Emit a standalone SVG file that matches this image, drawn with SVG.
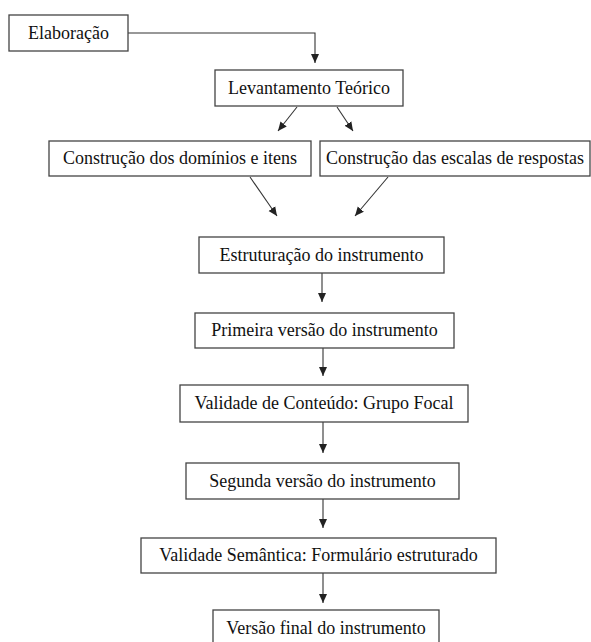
<svg xmlns="http://www.w3.org/2000/svg" width="591" height="642" viewBox="0 0 591 642">
<defs>
<style>
.box{fill:#fff;stroke:#444;stroke-width:1.3}
.t{font-family:"Liberation Serif","Times New Roman",serif;font-size:18px;fill:#111;text-anchor:middle}
.c{fill:none;stroke:#333;stroke-width:1.1}
</style>
<marker id="ah" markerUnits="userSpaceOnUse" markerWidth="9" markerHeight="9" viewBox="0 0 9 9" refX="9" refY="4.5" orient="auto">
<path d="M0,0.5 L9,4.5 L0,8.5 Z" fill="#222"/>
</marker>
</defs>
<rect width="591" height="642" fill="#fff"/>
<g id="connectors">
<path class="c" d="M128,33 H315 V63" marker-end="url(#ah)"/>
<path class="c" d="M297,107 L278,131" marker-end="url(#ah)"/>
<path class="c" d="M337,107 L353,131" marker-end="url(#ah)"/>
<path class="c" d="M250,177 L277,216" marker-end="url(#ah)"/>
<path class="c" d="M388,177 L355,216" marker-end="url(#ah)"/>
<path class="c" d="M322,273 V302" marker-end="url(#ah)"/>
<path class="c" d="M323,348 V376" marker-end="url(#ah)"/>
<path class="c" d="M323,422 V453" marker-end="url(#ah)"/>
<path class="c" d="M323,499 V528" marker-end="url(#ah)"/>
<path class="c" d="M323,573 V603" marker-end="url(#ah)"/>
</g>
<g id="elaboracao"><rect class="box" x="9" y="15" width="119" height="36"/><text class="t" x="68.5" y="39">Elaboração</text></g>
<g id="levantamento"><rect class="box" x="215" y="70" width="188" height="36"/><text class="t" x="309" y="94">Levantamento Teórico</text></g>
<g id="dominios"><rect class="box" x="49" y="141" width="262" height="35"/><text class="t" x="180" y="164">Construção dos domínios e itens</text></g>
<g id="escalas"><rect class="box" x="320" y="141" width="270" height="35"/><text class="t" x="455" y="164">Construção das escalas de respostas</text></g>
<g id="estruturacao"><rect class="box" x="199" y="237" width="245" height="36"/><text class="t" x="321.5" y="261">Estruturação do instrumento</text></g>
<g id="primeira"><rect class="box" x="195" y="313" width="259" height="35"/><text class="t" x="324.5" y="336">Primeira versão do instrumento</text></g>
<g id="conteudo"><rect class="box" x="180" y="385" width="288" height="37"/><text class="t" x="324" y="409">Validade de Conteúdo: Grupo Focal</text></g>
<g id="segunda"><rect class="box" x="186" y="463" width="273" height="36"/><text class="t" x="322.5" y="487">Segunda versão do instrumento</text></g>
<g id="semantica"><rect class="box" x="141" y="538" width="355" height="35"/><text class="t" x="318.5" y="561">Validade Semântica: Formulário estruturado</text></g>
<g id="final"><rect class="box" x="213" y="610" width="226" height="40"/><text class="t" x="326" y="634">Versão final do instrumento</text></g>
</svg>
